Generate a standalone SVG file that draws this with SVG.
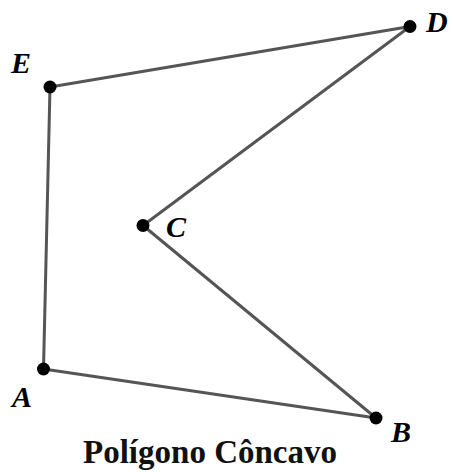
<svg xmlns="http://www.w3.org/2000/svg" width="454" height="472" viewBox="0 0 454 472">
<style>
.lbl{font-family:"Liberation Serif","Times New Roman",serif;font-style:italic;font-weight:bold;font-size:30px;fill:#000}
.edge{fill:none;stroke:#555;stroke-width:3;stroke-linejoin:round}
.pt{fill:#000}
.title{font-family:"Liberation Serif","Times New Roman",serif;font-weight:bold;font-size:33px;fill:#111}
</style>
<rect width="454" height="472" fill="#fff"/>
<g id="connectors">
<polygon class="edge" points="43.5,369 376,418 143,225.5 410,26.5 50,87"/>
</g>
<g id="A"><circle class="pt" cx="43.5" cy="369" r="6.5"/><text class="lbl" x="12" y="407">A</text></g>
<g id="B"><circle class="pt" cx="376" cy="418" r="6.5"/><text class="lbl" x="391" y="442">B</text></g>
<g id="C"><circle class="pt" cx="143" cy="225.5" r="6.5"/><text class="lbl" x="166" y="237">C</text></g>
<g id="D"><circle class="pt" cx="410" cy="26.5" r="6.5"/><text class="lbl" x="426" y="32">D</text></g>
<g id="E"><circle class="pt" cx="50" cy="87" r="6.5"/><text class="lbl" x="11" y="73">E</text></g>
<text class="title" x="210" y="463" text-anchor="middle">Polígono Côncavo</text>
</svg>
